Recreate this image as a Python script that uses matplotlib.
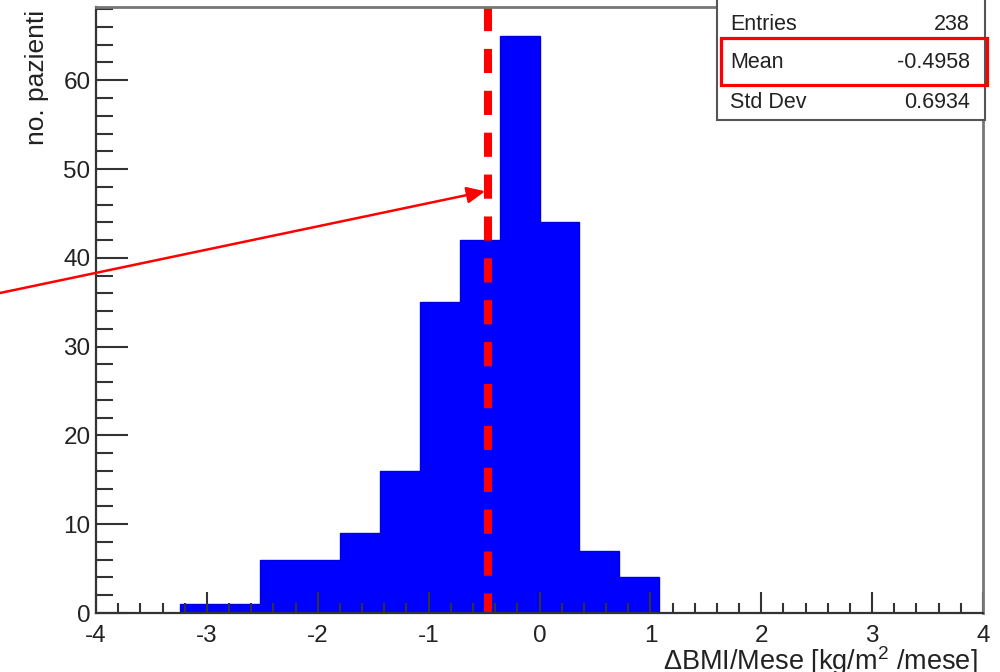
import matplotlib
matplotlib.use("Agg")
import matplotlib.pyplot as plt
from matplotlib.patches import Rectangle
from matplotlib.ticker import MultipleLocator

plt.rcParams['font.family'] = ['Liberation Sans', 'DejaVu Sans']
plt.rcParams['mathtext.fontset'] = 'custom'
plt.rcParams['mathtext.rm'] = 'Liberation Sans'
plt.rcParams['mathtext.it'] = 'Liberation Sans:italic'
plt.rcParams['mathtext.bf'] = 'Liberation Sans:bold'
plt.rcParams['axes.unicode_minus'] = False

# ---- data ----
bin_edges = [-3.24, -2.88, -2.52, -2.16, -1.80, -1.44, -1.08, -0.72, -0.36, 0.0, 0.36, 0.72, 1.08]
counts = [1, 1, 6, 6, 9, 16, 35, 42, 65, 44, 7, 4]
stat_names = ["Entries", "Mean", "Std Dev"]
stat_values = ["238", "-0.4958", "0.6934"]
mean_marker_x = -0.46
arrow_tip = (-0.49, 47.5)
x_range = (-4, 4)
y_range = (0, 68.25)
x_title = r"ΔBMI/Mese [kg/m$^{2}$ /mese]"
y_title = "no. pazienti"

W, H = 1000, 672
fig = plt.figure(figsize=(W / 100, H / 100), dpi=100)
L, R, T, B = 96, 983, 7, 613
ax = fig.add_axes([L / W, 1 - B / H, (R - L) / W, (B - T) / H])

ax.stairs(counts, bin_edges, fill=True, color='#0000ff', baseline=0, zorder=2)
ax.stairs(counts, bin_edges, fill=False, color='#0000dd', baseline=0, linewidth=1, zorder=2)

ax.set_xlim(*x_range)
ax.set_ylim(*y_range)

# mean dashed line (drawn from top downward)
ax.plot([mean_marker_x, mean_marker_x], [y_range[1], 0], color='#ff0000', lw=5.8,
        linestyle=(0, (3.0, 2.2)), solid_capstyle='butt', dash_capstyle='butt', zorder=3,
        clip_on=False)

# spines
for s in ['left', 'bottom']:
    ax.spines[s].set_color('#333333')
    ax.spines[s].set_linewidth(1.6)
for s in ['top', 'right']:
    ax.spines[s].set_color('#777777')
    ax.spines[s].set_linewidth(2.0)
for s in ax.spines.values():
    s.set_zorder(4)

ax.xaxis.set_major_locator(MultipleLocator(1))
ax.xaxis.set_minor_locator(MultipleLocator(0.2))
ax.yaxis.set_major_locator(MultipleLocator(10))
ax.yaxis.set_minor_locator(MultipleLocator(2))
ax.tick_params(axis='both', which='both', direction='in', top=False, right=False,
               color='#333333', width=1.5, zorder=4)
ax.tick_params(axis='x', which='major', length=15, labelsize=17.5, pad=8.5)
ax.tick_params(axis='x', which='minor', length=7.5)
ax.tick_params(axis='y', which='major', length=23, labelsize=17.5, pad=4)
ax.tick_params(axis='y', which='minor', length=12)
ax.set_axisbelow(False)
for t in ax.get_xticklabels() + ax.get_yticklabels():
    t.set_color('#222222')

# axis titles
fig.text(978 / W, 1.5 / H, x_title, ha='right', va='baseline', fontsize=19.5, color='#222222')
fig.text(37 / W, 1 - 10 / H, y_title, ha='center', va='top', rotation=90, fontsize=19, color='#222222')

# arrow
ax.annotate('', xy=arrow_tip, xycoords='data',
            xytext=(0, 1 - 293 / H), textcoords='figure fraction',
            arrowprops=dict(arrowstyle='-|>,head_length=0.55,head_width=0.25', color='#ff0000',
                            lw=1.8, mutation_scale=20, shrinkA=0, shrinkB=0),
            annotation_clip=False, zorder=5)

# stats box
bx0, bx1, by0, by1 = 717, 985, -5, 120
fig.patches.append(Rectangle((bx0 / W, 1 - by1 / H), (bx1 - bx0) / W, (by1 - by0) / H,
                             transform=fig.transFigure, facecolor='white', edgecolor='#555555',
                             linewidth=1.5, zorder=10))
row_y = [25, 63, 102]
for name, val, yy in zip(stat_names, stat_values, row_y):
    fig.text(730 / W, 1 - yy / H, name, ha='left', va='center', fontsize=15.5, color='#222222', zorder=11)
    fig.text(970 / W, 1 - yy / H, val, ha='right', va='center', fontsize=15.5, color='#222222', zorder=11)

# red highlight around Mean row
fig.patches.append(Rectangle((721 / W, 1 - 85 / H), (987 - 721) / W, (85 - 38) / H,
                             transform=fig.transFigure, facecolor='none', edgecolor='#ff0000',
                             linewidth=2.3, zorder=12))

fig.savefig('out.png', dpi=100)
